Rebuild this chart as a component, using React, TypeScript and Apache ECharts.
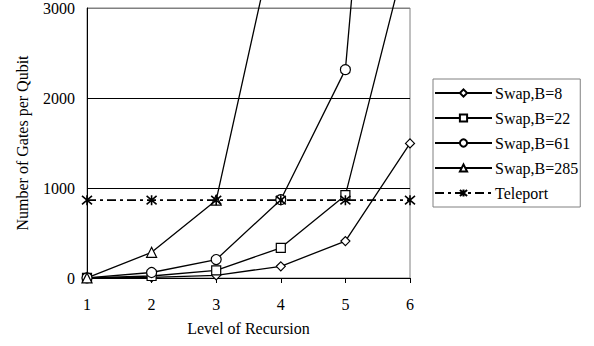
import React, { useEffect, useRef } from "react";
import * as echarts from "echarts";

const categories = ["1", "2", "3", "4", "5", "6"];
const swapB8 = [1, 8, 30, 130, 410, 1495];
const swapB22 = [1, 22, 85, 335, 920, 3750];
const swapB61 = [1, 61, 205, 870, 2315, 10500];
const swapB285 = [1, 285, 865, 4100, 19000, 90000];
const teleport = [865, 865, 865, 865, 865, 865];
const yTicks = { min: 0, max: 3000, interval: 1000 };

const FONT = "Liberation Serif";
const STAR = "path://M0,0 L10,10 M10,0 L0,10 M5,-1 L5,11";

export default function App() {
  const ref = useRef<HTMLDivElement>(null);
  useEffect(() => {
    if (!ref.current) return;
    const chart = echarts.init(ref.current, null, { renderer: "svg" });
    const swap = (name: string, data: number[], symbol: string, size: number) => ({
      name,
      type: "line",
      data,
      symbol,
      symbolSize: size,
      clip: false,
      lineStyle: { color: "#000", width: 1.3 },
      itemStyle: { color: "#fff", borderColor: "#000", borderWidth: 1.2 },
      z: 3,
    });
    chart.setOption({
      animation: false,
      textStyle: { fontFamily: FONT },
      grid: {
        left: 87,
        right: 184,
        top: 8,
        bottom: 68,
        show: true,
        borderColor: "#808080",
        borderWidth: 1,
        backgroundColor: "transparent",
      },
      legend: {
        orient: "vertical",
        left: 433,
        top: 79,
        padding: [6, 2, 6, 1],
        itemWidth: 57,
        itemHeight: 9,
        itemGap: 9,
        borderColor: "#808080",
        borderWidth: 1,
        textStyle: { fontFamily: FONT, fontSize: 16, color: "#000", padding: [0, 0, 0, -2] },
        data: ["Swap,B=8", "Swap,B=22", "Swap,B=61", "Swap,B=285", "Teleport"],
      },
      xAxis: {
        type: "category",
        data: categories,
        boundaryGap: false,
        name: "Level of Recursion",
        nameLocation: "middle",
        nameGap: 42,
        nameTextStyle: { fontFamily: FONT, fontSize: 16, color: "#000" },
        axisLine: { lineStyle: { color: "#000", width: 1 } },
        axisTick: { show: true, length: 5, lineStyle: { color: "#000" } },
        axisLabel: { fontFamily: FONT, fontSize: 16, color: "#000", margin: 18 },
        splitLine: { show: false },
      },
      yAxis: {
        type: "value",
        min: yTicks.min,
        max: yTicks.max,
        interval: yTicks.interval,
        name: "Number of Gates per Qubit",
        nameLocation: "middle",
        nameGap: 57,
        nameTextStyle: { fontFamily: FONT, fontSize: 16, color: "#000" },
        axisLine: { show: true, lineStyle: { color: "#000", width: 1 } },
        axisTick: { show: false },
        axisLabel: {
          fontFamily: FONT,
          fontSize: 16,
          color: "#000",
          margin: 12,
          formatter: (v: number) => String(v),
        },
        splitLine: {
          show: true,
          lineStyle: { color: ["#000", "#000", "#000", "#808080"], width: 1 },
        },
      },
      series: [
        swap("Swap,B=8", swapB8, "diamond", 9),
        swap("Swap,B=22", swapB22, "rect", 9),
        swap("Swap,B=61", swapB61, "circle", 10),
        swap("Swap,B=285", swapB285, "triangle", 10),
        {
          name: "Teleport",
          type: "line",
          data: teleport,
          symbol: STAR,
          symbolSize: 10,
          clip: false,
          lineStyle: { color: "#000", width: 1.6, type: [9, 4, 3, 4] },
          itemStyle: { color: "#000", borderColor: "#000", borderWidth: 1.6 },
          z: 4,
        },
      ],
    });
    return () => chart.dispose();
  }, []);
  return (
    <div
      ref={ref}
      style={{ position: "absolute", left: 0, top: 0, width: 594, height: 346, background: "#fff" }}
    />
  );
}
